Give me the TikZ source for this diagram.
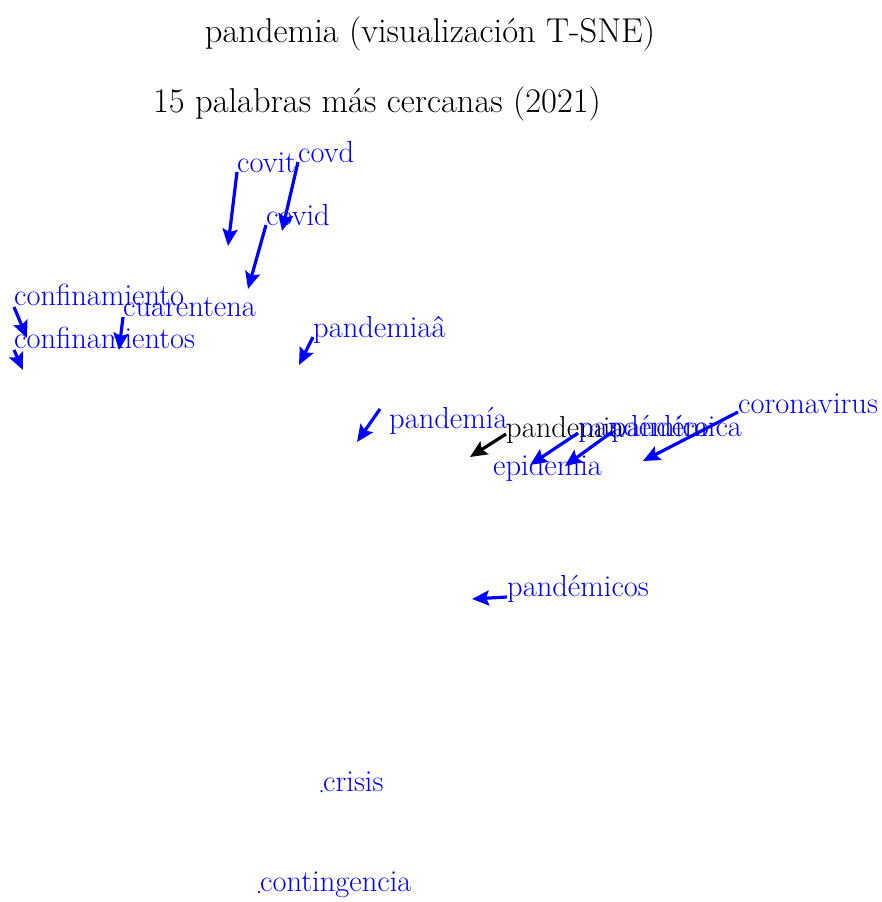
\documentclass[tikz,border=0pt]{standalone}
\usetikzlibrary{arrows.meta}
\begin{document}
\begin{tikzpicture}[x=1pt,y=-1pt,
  lbl/.style={text=blue,font=\fontsize{30.5}{32}\selectfont,inner sep=0pt,anchor=base west},
  ttl/.style={text=black,font=\fontsize{34.5}{36}\selectfont,inner sep=0pt,anchor=base},
  arr/.style={draw=blue,line width=3.2pt,-{Stealth[length=17pt,width=15pt,inset=3pt]}},
  pt/.style={fill=blue,circle,inner sep=0pt,minimum size=2.5pt}]
\useasboundingbox (0,0) rectangle (882,902);
% titles
\node[ttl] (title) at (430,42) {pandemia (visualización T-SNE)};
\node[ttl] (subtitle) at (377,112) {15 palabras más cercanas (2021)};
% word labels
\node[lbl] (covit) at (237,172) {covit};
\node[lbl] (covd) at (298,162) {covd};
\node[lbl] (covid) at (266,225) {covid};
\node[lbl] (confinamiento) at (14,305) {confinamiento};
\node[lbl] (cuarentena) at (123,316) {cuarentena};
\node[lbl] (confinamientos) at (14,348) {confinamientos};
\node[lbl] (pandemiaa) at (313,337) {pandemiaâ};
\node[lbl] (pandemiaacc) at (389,428) {pandemía};
\node[lbl,text=black] (pandemia) at (506,437) {pandemia};
\node[lbl] (pandemico) at (578,436) {pandémico};
\node[lbl] (pandemica) at (611,436) {pandémica};
\node[lbl] (coronavirus) at (738,413) {coronavirus};
\node[lbl] (epidemia) at (493,475) {epidemia};
\node[lbl] (pandemicos) at (507,596) {pandémicos};
\node[lbl] (crisis) at (323,791) {crisis};
\node[lbl] (contingencia) at (260,891) {contingencia};
% embedded points
\coordinate (p-covit) at (228,246);
\coordinate (p-covd) at (282,231);
\coordinate (p-covid) at (248,289);
\coordinate (p-confinamiento) at (27,338);
\coordinate (p-cuarentena) at (119,350);
\coordinate (p-confinamientos) at (23,370);
\coordinate (p-pandemiaa) at (299,365);
\coordinate (t-pandemiaacc) at (380,409);
\coordinate (p-pandemiaacc) at (357,442);
\coordinate (p-pandemia) at (470,457);
\coordinate (p-pandemico) at (530,465);
\coordinate (p-pandemica) at (565,466);
\coordinate (p-coronavirus) at (643,461);
\coordinate (p-pandemicos) at (472,599);
\node[pt] (p-crisis) at (321.5,791) {};
\node[pt] (p-contingencia) at (259,892) {};
% arrows from each word to its point
\draw[arr] (covit.base west) -- (p-covit);
\draw[arr] (covd.base west) -- (p-covd);
\draw[arr] (covid.base west) -- (p-covid);
\draw[arr] ([yshift=-2pt]confinamiento.base west) -- (p-confinamiento);
\draw[arr] ([yshift=-1pt]cuarentena.base west) -- (p-cuarentena);
\draw[arr] ([yshift=-2pt]confinamientos.base west) -- (p-confinamientos);
\draw[arr] (pandemiaa.base west) -- (p-pandemiaa);
\draw[arr] (t-pandemiaacc) -- (p-pandemiaacc);
\draw[arr,draw=black] ([yshift=3pt]pandemia.base west) -- (p-pandemia);
\draw[arr] ([yshift=3pt]pandemico.base west) -- (p-pandemico);
\draw[arr] ([xshift=1pt,yshift=4pt]pandemica.base west) -- (p-pandemica);
\draw[arr] ([yshift=1pt]coronavirus.base west) -- (p-coronavirus);
\draw[arr] ([yshift=-1pt]pandemicos.base west) -- (p-pandemicos);
\end{tikzpicture}
\end{document}
